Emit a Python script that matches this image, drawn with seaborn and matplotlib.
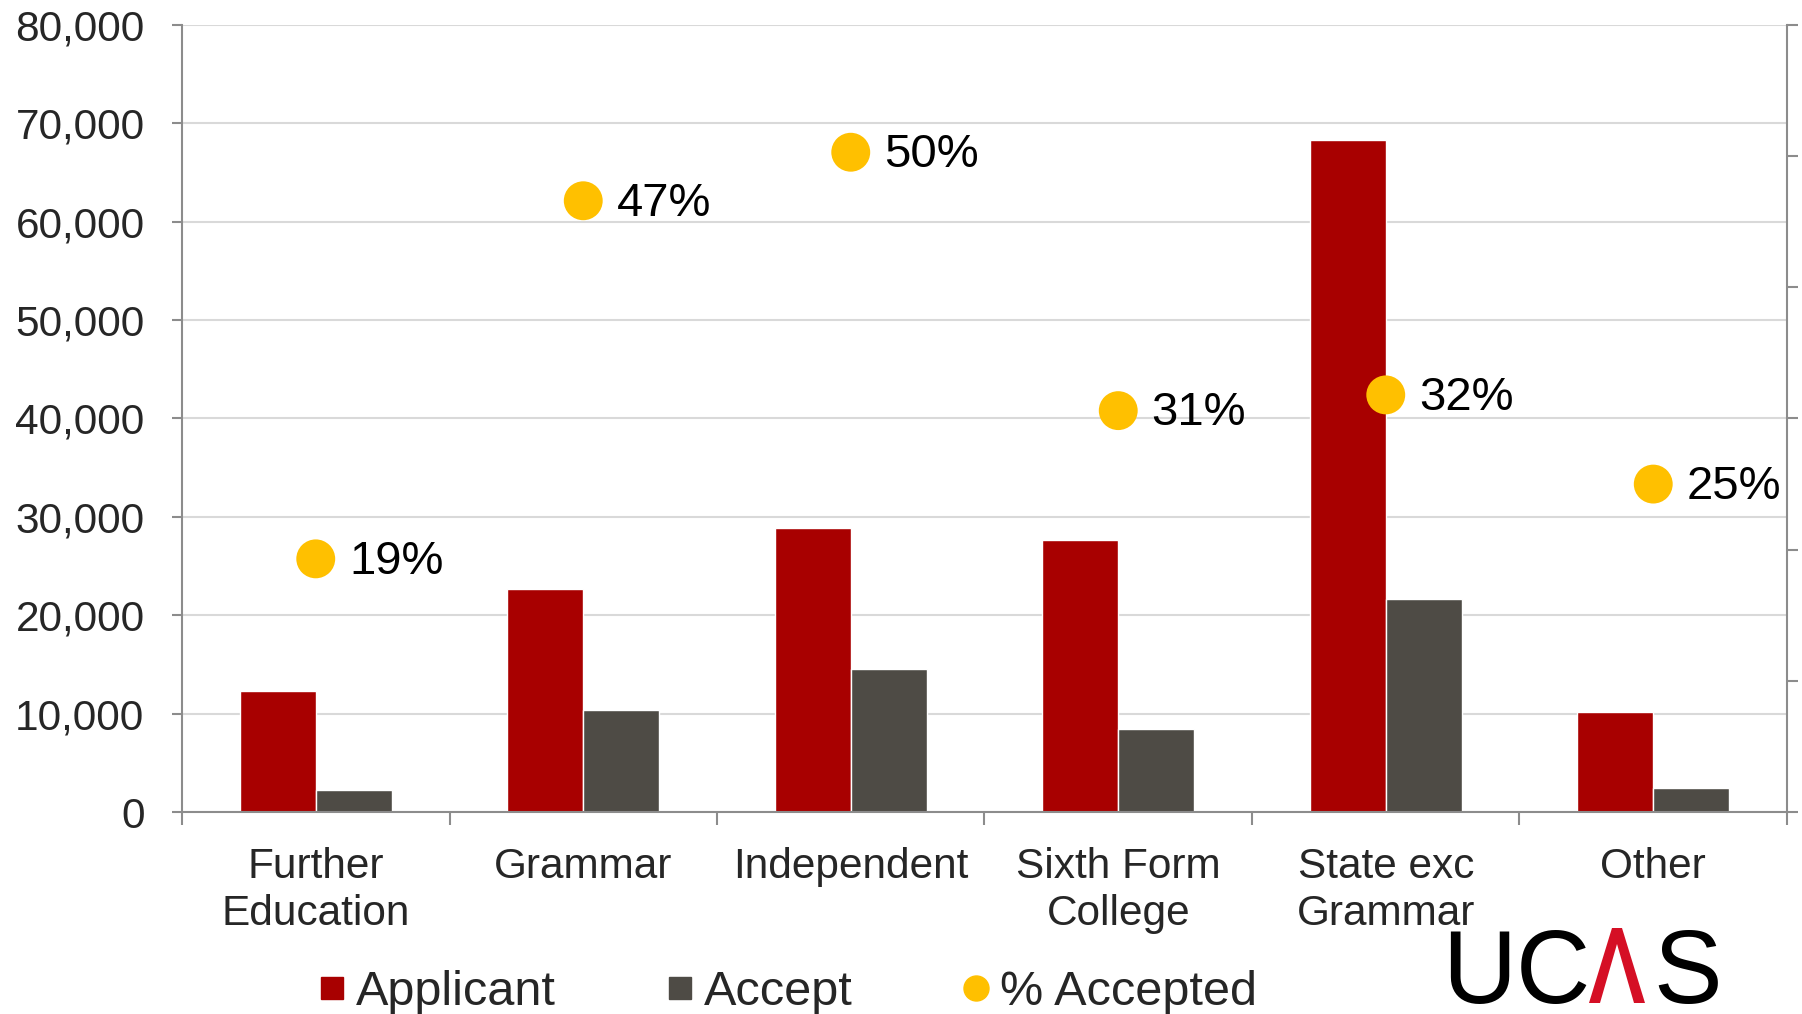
import numpy as np
import pandas as pd
import matplotlib
matplotlib.use("Agg")
import matplotlib.pyplot as plt
import seaborn as sns
from matplotlib.lines import Line2D
from matplotlib.patches import Polygon
from matplotlib.ticker import FuncFormatter, MultipleLocator

categories = ["Further\nEducation", "Grammar", "Independent", "Sixth Form\nCollege",
              "State exc\nGrammar", "Other"]
applicants = [12300, 22700, 28900, 27700, 68300, 10200]
accepts = [2200, 10400, 14500, 8400, 21700, 2400]
pct_accepted = [0.193, 0.466, 0.503, 0.306, 0.318, 0.25]
pct_labels = ["19%", "47%", "50%", "31%", "32%", "25%"]
series_names = ["Applicant", "Accept", "% Accepted"]

RED = "#A80000"
GRAY = "#4E4B45"
GOLD = "#FFC000"
AXC = "#8C8C8C"
LOGO_RED = "#D50F25"

sns.set_style("white")
plt.rcParams["font.family"] = ["Liberation Sans", "DejaVu Sans"]

df = pd.DataFrame({
    "School": categories * 2,
    "Count": applicants + accepts,
    "Series": [series_names[0]] * 6 + [series_names[1]] * 6,
})

W, H = 1802, 1014
fig = plt.figure(figsize=(W / 100, H / 100), dpi=100)
ax = fig.add_axes([182 / W, 1 - 812 / H, (1787 - 182) / W, (812 - 25) / H])

sns.barplot(data=df, x="School", y="Count", hue="Series", palette=[RED, GRAY],
            width=0.567, saturation=1, gap=0, ax=ax, legend=False)

ax.set_xlim(-0.5, 5.5)
ax.set_ylim(0, 80000)
ax.yaxis.set_major_locator(MultipleLocator(10000))
ax.yaxis.set_major_formatter(FuncFormatter(lambda v, p: f"{int(v):,}"))
ax.grid(axis="y", color="#D9D9D9", lw=1.5)
ax.set_axisbelow(True)
ax.set_xlabel("")
ax.set_ylabel("")
for s in ["top", "right"]:
    ax.spines[s].set_visible(False)
for s in ["left", "bottom"]:
    ax.spines[s].set_color(AXC)
    ax.spines[s].set_linewidth(1.5)

ax.tick_params(axis="y", which="major", direction="out", length=7, width=1.5,
               color=AXC, labelsize=30.5, pad=20, left=True)
ax.tick_params(axis="x", which="major", length=0, labelsize=30.5, pad=25)
for lab in ax.get_xticklabels():
    lab.set_linespacing(1.25)
ax.set_xticks(np.arange(-0.5, 6.0, 1.0), minor=True)
ax.tick_params(axis="x", which="minor", direction="out", length=9, width=1.5,
               color=AXC, bottom=True)

ax2 = ax.twinx()
ax2.set_ylim(0, 0.6)
ax2.yaxis.set_major_locator(MultipleLocator(0.1))
ax2.set_yticklabels([])
ax2.tick_params(axis="y", direction="out", length=8, width=1.5, color=AXC, right=True)
for s in ["top", "left", "bottom"]:
    ax2.spines[s].set_visible(False)
ax2.spines["right"].set_color(AXC)
ax2.spines["right"].set_linewidth(1.5)
ax2.grid(False)

xpos = np.arange(len(categories))
sns.scatterplot(x=xpos, y=pct_accepted, ax=ax2, s=28 ** 2, color=GOLD,
                edgecolor="none", legend=False, zorder=5, clip_on=False)
for x, y, lab in zip(xpos, pct_accepted, pct_labels):
    ax2.annotate(lab, (x, y), xytext=(24, -2), textcoords="offset points",
                 ha="left", va="center", fontsize=34, color="black", annotation_clip=False)
ax2.set_xlim(-0.5, 5.5)

handles = [
    Line2D([], [], marker="s", linestyle="none", color=RED, markersize=16.5),
    Line2D([], [], marker="s", linestyle="none", color=GRAY, markersize=16.5),
    Line2D([], [], marker="o", linestyle="none", color=GOLD, markersize=18),
]
fig.legend(handles, series_names, loc="center", bbox_to_anchor=(0.4375, 0.0215), ncol=3,
           frameon=False, fontsize=35, handlelength=0.5, handletextpad=0.24,
           columnspacing=2.3, borderpad=0)

# UCAS logo: letters as text, the red chevron drawn as a shape
base = 1003
for ch, xc in [("U", 1479), ("C", 1553), ("S", 1688)]:
    fig.text(xc / W, 1 - base / H, ch, ha="center", va="baseline", fontsize=74, color="black")
top = base - 75
pts = [(1589, base), (1612, top), (1622, top), (1645, base), (1634, base),
       (1617, top + 16), (1600, base)]
fig.add_artist(Polygon([(x / W, 1 - y / H) for x, y in pts], closed=True,
                       facecolor=LOGO_RED, edgecolor="none", transform=fig.transFigure))

fig.savefig("out.png", dpi=100)
